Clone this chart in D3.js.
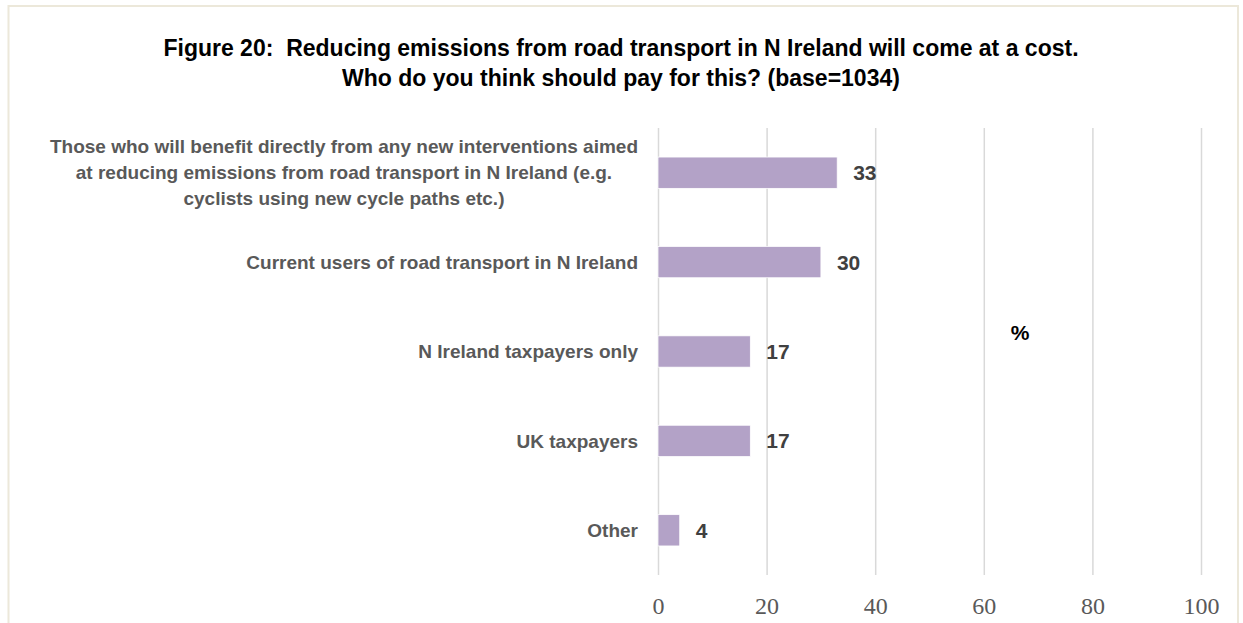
<!DOCTYPE html>
<html>
<head>
<meta charset="utf-8">
<script src="https://cdn.jsdelivr.net/npm/d3@7/dist/d3.min.js"></script>
<style>
  html, body { margin: 0; padding: 0; background: #ffffff; }
  svg { display: block; }
  text { white-space: pre; }
</style>
</head>
<body>
<svg id="chart" width="1243" height="623"></svg>
<script>
// Survey responses: who should pay for reducing road transport emissions
const titleLines = [
  "Figure 20:  Reducing emissions from road transport in N Ireland will come at a cost.",
  "Who do you think should pay for this? (base=1034)"
];
const categories = [
  ["Those who will benefit directly from any new interventions aimed",
   "at reducing emissions from road transport in N Ireland (e.g.",
   "cyclists using new cycle paths etc.)"],
  ["Current users of road transport in N Ireland"],
  ["N Ireland taxpayers only"],
  ["UK taxpayers"],
  ["Other"]
];
const values = [33, 30, 17, 17, 4];
const xTicks = [0, 20, 40, 60, 80, 100];
const unitLabel = "%";

const svg = d3.select("#chart");
const W = 1243, H = 623;

// frame
svg.append("rect").attr("x", 0).attr("y", 0).attr("width", W).attr("height", H).attr("fill", "#fff");
svg.append("path")
  .attr("d", `M8.5,${H} L8.5,6 L1238,6 L1238,${H}`)
  .attr("fill", "none").attr("stroke", "#ece8da").attr("stroke-width", 2);

const labelFont = "'Liberation Sans', Arial, sans-serif";

// title
svg.append("g").selectAll("text").data(titleLines).join("text")
  .attr("x", 621).attr("y", (d, i) => 56 + i * 30)
  .attr("text-anchor", "middle")
  .attr("font-family", labelFont)
  .attr("font-weight", "bold").attr("font-size", 23)
  .attr("fill", "#000")
  .text(d => d);

const ids = d3.range(categories.length);
const x = d3.scaleLinear().domain([0, 100]).range([658, 1201]);
const y = d3.scaleBand().domain(ids).range([128, 575]).paddingInner(0.65).paddingOuter(0.325);

// vertical gridlines
const grid = svg.append("g").attr("transform", "translate(0,575)")
  .call(d3.axisBottom(x).tickValues(xTicks).tickSize(-447).tickFormat(d3.format("d")).tickPadding(22));
grid.select(".domain").remove();
grid.selectAll(".tick line").attr("stroke", "#d9d9d9").attr("stroke-width", 1.5);
grid.selectAll(".tick text")
  .attr("font-family", "'Liberation Serif', 'DejaVu Serif', serif")
  .attr("font-size", 24).attr("fill", "#595959");

// bars
svg.append("g").selectAll("rect").data(values).join("rect")
  .attr("x", x(0)).attr("y", (d, i) => y(i))
  .attr("width", d => x(d) - x(0)).attr("height", y.bandwidth())
  .attr("fill", "#b3a2c7").attr("stroke", "#ffffff").attr("stroke-width", 0.75);

// value labels
svg.append("g").selectAll("text").data(values).join("text")
  .attr("x", d => x(d) + 16).attr("y", (d, i) => y(i) + y.bandwidth() / 2)
  .attr("dy", "0.36em")
  .attr("font-family", labelFont).attr("font-weight", "bold").attr("font-size", 21)
  .attr("fill", "#404040")
  .text(d => d);

// category labels (multi-line labels centred within their block, block right-aligned)
const labelRight = 638, lineGap = 26;
categories.forEach((lines, i) => {
  const g = svg.append("g");
  const cy = y(i) + y.bandwidth() / 2;
  const texts = lines.map((t, j) => g.append("text")
    .attr("y", cy + (j - (lines.length - 1) / 2) * lineGap)
    .attr("dy", "0.35em")
    .attr("font-family", labelFont).attr("font-weight", "bold").attr("font-size", 19)
    .attr("fill", "#595959").attr("text-anchor", "middle")
    .text(t));
  const maxW = d3.max(texts, t => t.node().getComputedTextLength());
  texts.forEach(t => t.attr("x", labelRight - maxW / 2));
});

// unit label
svg.append("text").attr("x", 1020).attr("y", 333).attr("dy", "0.35em")
  .attr("text-anchor", "middle")
  .attr("font-family", labelFont).attr("font-weight", "bold").attr("font-size", 21)
  .attr("fill", "#000").text(unitLabel);
</script>
</body>
</html>
